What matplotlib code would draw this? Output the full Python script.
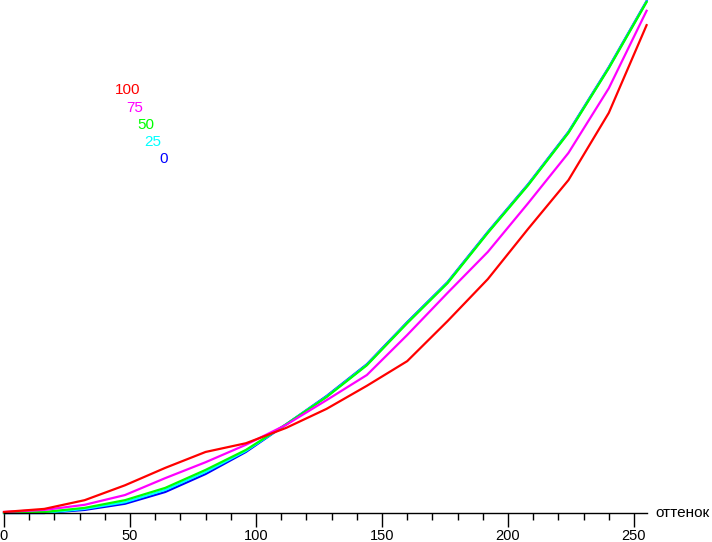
import matplotlib
matplotlib.use("Agg")
from matplotlib import pyplot as plt

plt.rcParams['font.family'] = ['Liberation Sans', 'DejaVu Sans']

# hue value (оттенок), sampled every 16 steps
hue = [0, 16, 32, 48, 64, 80, 96, 112, 128, 144, 160, 176, 192, 208, 224, 240, 255]

# relative output level for each saturation setting
lvl_0 = [0.000, 0.000, 0.006, 0.018, 0.041, 0.076, 0.119, 0.173, 0.228,
         0.290, 0.372, 0.450, 0.548, 0.641, 0.743, 0.869, 0.998]
lvl_25 = [0.000, 0.000, 0.008, 0.021, 0.045, 0.080, 0.121, 0.173, 0.227,
          0.289, 0.371, 0.449, 0.547, 0.640, 0.742, 0.868, 0.997]
lvl_50 = [0.000, 0.002, 0.010, 0.025, 0.049, 0.084, 0.123, 0.173, 0.226,
          0.288, 0.370, 0.448, 0.546, 0.639, 0.741, 0.867, 0.996]
lvl_75 = [0.002, 0.006, 0.016, 0.035, 0.068, 0.099, 0.133, 0.172, 0.220,
          0.269, 0.347, 0.429, 0.509, 0.604, 0.702, 0.828, 0.979]
lvl_100 = [0.002, 0.008, 0.025, 0.054, 0.088, 0.119, 0.136, 0.166, 0.203,
           0.248, 0.296, 0.374, 0.456, 0.554, 0.649, 0.780, 0.951]

series = [
    ("0", lvl_0, "#0000ff"),
    ("25", lvl_25, "#00ffff"),
    ("50", lvl_50, "#00ff00"),
    ("75", lvl_75, "#ff00ff"),
    ("100", lvl_100, "#ff0000"),
]

W, H = 712, 542
fig = plt.figure(figsize=(W / 100, H / 100), dpi=100)
ax = fig.add_axes([4 / W, (H - 513) / H, (646.6 - 4) / W, 513 / H])

for name, vals, col in series:
    ax.plot(hue, vals, color=col, lw=1.6, clip_on=False)

ax.set_xlim(0, 255)
ax.set_ylim(0, 1)
for side in ("top", "right", "left"):
    ax.spines[side].set_visible(False)
ax.spines["bottom"].set_linewidth(1.0)
ax.set_yticks([])
ax.set_xticks(range(0, 251, 50))
ax.set_xticks(range(0, 251, 10), minor=True)
ax.tick_params(axis="x", which="major", length=10, width=1, pad=1.5, labelsize=10.5)
ax.tick_params(axis="x", which="minor", length=5, width=1)

fig.text(655 / W, 1 - 513 / H, "оттенок", fontsize=11, va="center", ha="left")

# legend as coloured labels, stepping down and right
legend_pos = [("100", 115, 90, "#ff0000"), ("75", 126, 108, "#ff00ff"),
              ("50", 137, 125, "#00ff00"), ("25", 144, 142, "#00ffff"),
              ("0", 159, 159, "#0000ff")]
for txt, px, py, col in legend_pos:
    fig.text(px / W, 1 - py / H, txt, color=col, fontsize=11, va="center", ha="left")

fig.savefig("out.png", dpi=100)
